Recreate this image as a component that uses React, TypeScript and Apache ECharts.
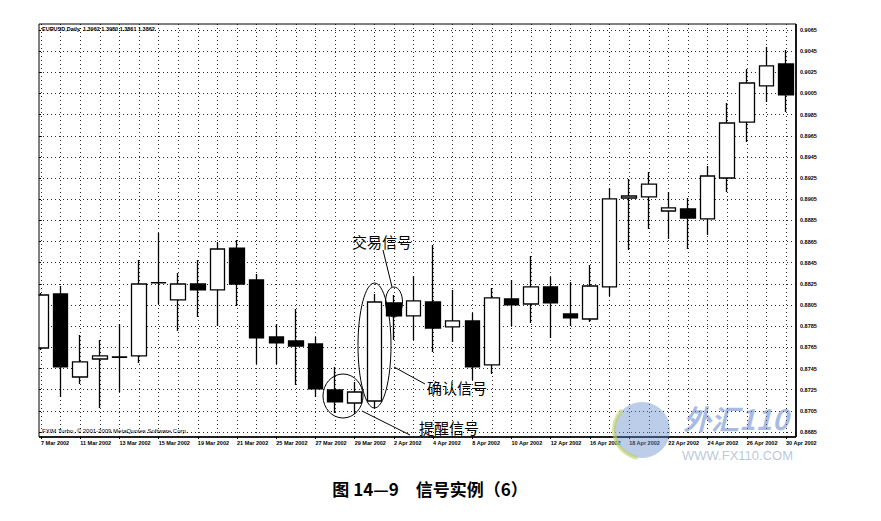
import React, { useEffect, useRef } from "react";
import * as echarts from "echarts";

// ---- data ----
const dates = [
  "7 Mar 2002", "8 Mar 2002", "11 Mar 2002", "12 Mar 2002", "13 Mar 2002", "14 Mar 2002", "15 Mar 2002",
  "18 Mar 2002", "19 Mar 2002", "20 Mar 2002", "21 Mar 2002", "22 Mar 2002", "25 Mar 2002", "26 Mar 2002",
  "27 Mar 2002", "28 Mar 2002", "29 Mar 2002", "1 Apr 2002", "2 Apr 2002", "3 Apr 2002", "4 Apr 2002",
  "5 Apr 2002", "8 Apr 2002", "9 Apr 2002", "10 Apr 2002", "11 Apr 2002", "12 Apr 2002", "15 Apr 2002",
  "16 Apr 2002", "17 Apr 2002", "18 Apr 2002", "19 Apr 2002", "22 Apr 2002", "23 Apr 2002", "24 Apr 2002",
  "25 Apr 2002", "26 Apr 2002", "29 Apr 2002", "30 Apr 2002",
];

const openPrices = [
  0.87644, 0.88155, 0.8737, 0.8754, 0.87559, 0.87569, 0.88259, 0.88098, 0.88249, 0.88193, 0.88589, 0.88287,
  0.87748, 0.8771, 0.87682, 0.87247, 0.87124, 0.87143, 0.8807, 0.87947, 0.88079, 0.87843, 0.879, 0.87484,
  0.88107, 0.8806, 0.88221, 0.87966, 0.87918, 0.88221, 0.89062, 0.89072, 0.88939, 0.88958, 0.88864, 0.89251,
  0.8978, 0.90121, 0.90329,
];
const closePrices = [
  0.88145, 0.87465, 0.87512, 0.87569, 0.87555, 0.88249, 0.88262, 0.88249, 0.88193, 0.8858, 0.88249, 0.87739,
  0.87692, 0.87663, 0.87257, 0.87134, 0.87228, 0.88079, 0.87947, 0.88089, 0.87833, 0.879, 0.87465, 0.88117,
  0.88051, 0.88221, 0.8807, 0.87928, 0.8823, 0.89053, 0.89081, 0.89194, 0.88968, 0.88873, 0.8927, 0.89771,
  0.90149, 0.9031, 0.90036,
];
const lowPrices = [
  0.87625, 0.87181, 0.87304, 0.87077, 0.87228, 0.87502, 0.8806, 0.87805, 0.87937, 0.87852, 0.88041, 0.87493,
  0.87493, 0.87295, 0.87181, 0.8703, 0.8702, 0.87077, 0.8772, 0.8772, 0.87607, 0.87701, 0.87342, 0.87399,
  0.87852, 0.87881, 0.87739, 0.87852, 0.8789, 0.88136, 0.88571, 0.88769, 0.88675, 0.8858, 0.88712, 0.89119,
  0.89591, 0.89969, 0.89875,
];
const highPrices = [
  0.88164, 0.8823, 0.87767, 0.8772, 0.87871, 0.88476, 0.88731, 0.88353, 0.88476, 0.88646, 0.88665, 0.88344,
  0.87871, 0.88013, 0.87748, 0.87465, 0.87323, 0.88155, 0.88145, 0.88325, 0.88618, 0.88193, 0.87975, 0.88211,
  0.88287, 0.88514, 0.88315, 0.88268, 0.88429, 0.89157, 0.89242, 0.89308, 0.89119, 0.89062, 0.89365, 0.8996,
  0.90281, 0.90489, 0.90461,
];

const yTickValues = [
  0.8685, 0.8705, 0.8725, 0.8745, 0.8765, 0.8785, 0.8805, 0.8825, 0.8845, 0.8865,
  0.8885, 0.8905, 0.8925, 0.8945, 0.8965, 0.8985, 0.9005, 0.9025, 0.9045, 0.9065,
];

const chartTitle = "EURUSD,Daily  1.3962 1.3980 1.3861 1.3862";
const copyright = "FXIM Turbo, © 2001-2009 MetaQuotes Software Corp.";
const caption = "图 14—9　信号实例（6）";
const noteTrade = "交易信号";
const noteConfirm = "确认信号";
const noteAlert = "提醒信号";

export default function App() {
  const ref = useRef<HTMLDivElement>(null);

  useEffect(() => {
    const el = ref.current;
    if (!el) return;
    const chart = echarts.init(el, null, { renderer: "svg" });

    // layout (pixels)
    const frameL = 39, frameR = 796, frameT = 24, frameB = 437;
    const labelTopY = 30, labelBotY = 432; // pixel rows of first / last price label
    const yMinL = yTickValues[0];
    const yMaxL = yTickValues[yTickValues.length - 1];
    const pxPerUnit = (labelBotY - labelTopY) / (yMaxL - yMinL);
    const min0 = yMinL - (frameB - labelBotY) / pxPerUnit;
    const max0 = yMaxL + (labelTopY - frameT) / pxPerUnit;
    const step = Number((yTickValues[1] - yTickValues[0]).toFixed(4));

    const W = 881, H = 521;
    const firstX = 41, lastX = 786;

    const candleData = dates.map((_, i) => [openPrices[i], closePrices[i], lowPrices[i], highPrices[i]]);

    const dotted = { color: "#2a2a2a", width: 1, type: [1, 3] as any };
    const cjk = "'Noto Sans CJK SC', sans-serif";
    const sans = "'Liberation Sans', Arial, sans-serif";

    const option: any = {
      animation: false,
      backgroundColor: "#fff",
      grid: [
        { left: firstX, right: W - lastX, top: frameT, bottom: H - frameB, outerBoundsMode: "none", containLabel: false },
        { left: frameL, right: W - frameR, top: labelTopY, bottom: H - labelBotY, outerBoundsMode: "none", containLabel: false },
      ],
      xAxis: [
        {
          type: "category",
          gridIndex: 0,
          data: dates,
          boundaryGap: false,
          axisLine: { show: false },
          axisTick: { show: true, interval: 1, length: 2, lineStyle: { color: "#000" } },
          axisLabel: {
            interval: 1,
            align: "left",
            fontSize: 5.5,
            fontWeight: "bold",
            fontFamily: sans,
            color: "#000",
            margin: 3,
          },
          splitLine: { show: true, interval: 0, lineStyle: dotted },
        },
        { type: "value", gridIndex: 1, min: 0, max: 1, show: false },
      ],
      yAxis: [
        { type: "value", gridIndex: 0, min: min0, max: max0, show: false },
        {
          type: "value",
          gridIndex: 1,
          position: "right",
          min: yMinL,
          max: yMaxL,
          interval: step,
          axisLine: { show: false },
          axisTick: { show: true, length: 2, lineStyle: { color: "#000" } },
          axisLabel: {
            fontSize: 5.5,
            fontWeight: "bold",
            fontFamily: sans,
            color: "#000",
            margin: 4,
            formatter: (v: number) => v.toFixed(4),
          },
          splitLine: { show: true, lineStyle: dotted },
        },
      ],
      series: [
        {
          type: "candlestick",
          xAxisIndex: 0,
          yAxisIndex: 0,
          data: candleData,
          barWidth: 15,
          clip: false,
          z: 2,
          itemStyle: {
            color: "#fff",
            color0: "#000",
            borderColor: "#000",
            borderColor0: "#000",
            borderWidth: 1.3,
          },
          emphasis: { disabled: true },
        },
      ],
      graphic: [
        // mask left of frame (first candle is cut by the frame)
        { type: "rect", z: 50, shape: { x: 20, y: frameT, width: frameL - 20 - 0.5, height: frameB - frameT }, style: { fill: "#fff" } },
        { type: "rect", z: 51, shape: { x: frameL, y: frameT, width: frameR - frameL, height: frameB - frameT }, style: { fill: "none", stroke: "#000", lineWidth: 1 } },
        { type: "line", z: 51, shape: { x1: frameR, y1: frameT, x2: frameR, y2: frameB }, style: { stroke: "#000", lineWidth: 1.6 } },
        { type: "line", z: 51, shape: { x1: frameL, y1: frameB, x2: frameR, y2: frameB }, style: { stroke: "#000", lineWidth: 1.3 } },
        {
          type: "text", z: 52, x: 42, y: 29,
          style: { text: chartTitle, fontSize: 5.5, fontWeight: "bold", fontFamily: sans, fill: "#000", verticalAlign: "middle", align: "left" },
        },
        {
          type: "text", z: 52, x: 42, y: 430.5,
          style: { text: copyright, fontSize: 6, fontFamily: sans, fill: "#000", verticalAlign: "middle", align: "left" },
        },
        // annotations
        { type: "ellipse", z: 53, shape: { cx: 343, cy: 396, rx: 20, ry: 22 }, style: { fill: "none", stroke: "#000", lineWidth: 1 } },
        { type: "ellipse", z: 53, shape: { cx: 374.5, cy: 345.5, rx: 16.5, ry: 62.5 }, style: { fill: "none", stroke: "#000", lineWidth: 1 } },
        { type: "ellipse", z: 53, shape: { cx: 394, cy: 302, rx: 8.5, ry: 15 }, style: { fill: "none", stroke: "#000", lineWidth: 1 } },
        { type: "line", z: 53, shape: { x1: 383, y1: 250, x2: 392, y2: 287 }, style: { stroke: "#000", lineWidth: 1 } },
        { type: "line", z: 53, shape: { x1: 394, y1: 367, x2: 425, y2: 384 }, style: { stroke: "#000", lineWidth: 1 } },
        { type: "line", z: 53, shape: { x1: 362, y1: 411, x2: 410, y2: 435 }, style: { stroke: "#000", lineWidth: 1 } },
        {
          type: "text", z: 54, x: 382, y: 241,
          style: { text: noteTrade, fontSize: 15, fontFamily: cjk, fill: "#000", align: "center", verticalAlign: "middle" },
        },
        {
          type: "text", z: 54, x: 457, y: 387,
          style: { text: noteConfirm, fontSize: 15, fontFamily: cjk, fill: "#000", align: "center", verticalAlign: "middle" },
        },
        {
          type: "text", z: 54, x: 449, y: 427.5,
          style: { text: noteAlert, fontSize: 15, fontFamily: cjk, fill: "#000", align: "center", verticalAlign: "middle" },
        },
        // watermark
        { type: "circle", z: 55, shape: { cx: 642, cy: 430, r: 28 }, style: { fill: "rgba(95,135,205,0.42)" } },
        { type: "arc", z: 55, shape: { cx: 642, cy: 430, r: 28, startAngle: Math.PI * 0.55, endAngle: Math.PI * 1.25 }, style: { stroke: "rgba(190,210,90,0.6)", lineWidth: 4, fill: "none" } },
        {
          type: "text", z: 55, x: 683, y: 418,
          style: { text: "外汇110", fontSize: 28, fontStyle: "italic", fontWeight: "bold", fontFamily: cjk, fill: "rgba(80,120,200,0.5)", align: "left", verticalAlign: "middle" },
        },
        {
          type: "text", z: 55, x: 682, y: 455,
          style: { text: "WWW.FX110.COM", fontSize: 13, fontFamily: sans, fill: "rgba(140,160,195,0.6)", align: "left", verticalAlign: "middle" },
        },
        // caption
        {
          type: "text", z: 52, x: 430, y: 488,
          style: { text: caption, fontSize: 17, fontWeight: "bold", fontFamily: cjk, fill: "#000", align: "center", verticalAlign: "middle" },
        },
      ],
    };

    chart.setOption(option);
    return () => chart.dispose();
  }, []);

  return (
    <div
      ref={ref}
      style={{ position: "absolute", left: 0, top: 0, width: 881, height: 521, background: "#fff" }}
    />
  );
}
